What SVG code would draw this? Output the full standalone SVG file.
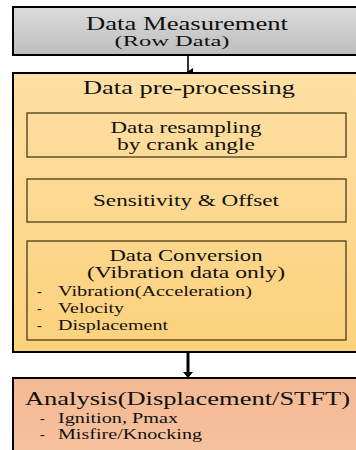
<svg xmlns="http://www.w3.org/2000/svg" width="356" height="450" viewBox="0 0 356 450">
<style>
text{font-family:"Liberation Serif","Times New Roman",serif;fill:#111;}
.c{text-anchor:middle;}
.box{stroke:#000;stroke-width:2;}
.inner{fill:none;stroke:#4a3c1a;stroke-width:1.3;}
.ln{stroke:#000;stroke-width:1.6;fill:none;}
</style>
<defs>
<linearGradient id="gGray" x1="0" y1="0" x2="0" y2="1"><stop offset="0" stop-color="#dcdcdc"/><stop offset="1" stop-color="#bdbdbd"/></linearGradient>
<linearGradient id="gOr" x1="0" y1="0" x2="0" y2="1"><stop offset="0" stop-color="#fee0a4"/><stop offset="1" stop-color="#fbd17c"/></linearGradient>
<linearGradient id="gPk" x1="0" y1="0" x2="0" y2="1"><stop offset="0" stop-color="#f3b994"/><stop offset="1" stop-color="#f6c29e"/></linearGradient>
<marker id="ah" markerWidth="8" markerHeight="8" refX="4" refY="6" orient="auto" markerUnits="userSpaceOnUse" viewBox="0 0 8 8"><path d="M0,1 L8,1 L4,7 z" fill="#000"/></marker>
</defs>
<g id="connectors">
<line class="ln" x1="188" y1="56" x2="188" y2="72" marker-end="url(#ah)"/>
<line class="ln" x1="187" y1="157" x2="187" y2="178" marker-end="url(#ah)"/>
<line class="ln" x1="187" y1="222" x2="187" y2="240" marker-end="url(#ah)"/>
<line x1="188" y1="353" x2="188" y2="374" stroke="#000" stroke-width="3"/>
<path d="M183,372 L193,372 L188,378 z" fill="#000"/>
</g>
<g id="measurement">
<rect class="box" x="13" y="7" width="350" height="48" fill="url(#gGray)"/>
<text class="c" x="187" y="30" font-size="19" textLength="202" lengthAdjust="spacingAndGlyphs">Data Measurement</text>
<text class="c" x="172" y="46" font-size="15" textLength="115" lengthAdjust="spacingAndGlyphs">(Row Data)</text>
</g>
<g id="preprocessing">
<rect class="box" x="13" y="73" width="350" height="279" fill="url(#gOr)"/>
<text class="c" x="189" y="94" font-size="19" textLength="212" lengthAdjust="spacingAndGlyphs">Data pre-processing</text>
</g>
<g id="resampling">
<rect class="inner" x="27" y="113" width="319" height="44"/>
<text class="c" x="186" y="133" font-size="16" textLength="151" lengthAdjust="spacingAndGlyphs">Data resampling</text>
<text class="c" x="186" y="150" font-size="16" textLength="138" lengthAdjust="spacingAndGlyphs">by crank angle</text>
</g>
<g id="sensitivity">
<rect class="inner" x="27" y="179" width="319" height="43"/>
<text class="c" x="186" y="206" font-size="16" textLength="186" lengthAdjust="spacingAndGlyphs">Sensitivity &amp; Offset</text>
</g>
<g id="conversion">
<rect class="inner" x="27" y="241" width="319" height="99"/>
<text class="c" x="186" y="261" font-size="16" textLength="153" lengthAdjust="spacingAndGlyphs">Data Conversion</text>
<text class="c" x="186" y="278" font-size="16" textLength="198" lengthAdjust="spacingAndGlyphs">(Vibration data only)</text>
<text x="37" y="296" font-size="14">-</text>
<text x="58" y="296" font-size="14" textLength="194" lengthAdjust="spacingAndGlyphs">Vibration(Acceleration)</text>
<text x="37" y="313" font-size="14">-</text>
<text x="58" y="313" font-size="14" textLength="66" lengthAdjust="spacingAndGlyphs">Velocity</text>
<text x="37" y="330" font-size="14">-</text>
<text x="58" y="330" font-size="14" textLength="110" lengthAdjust="spacingAndGlyphs">Displacement</text>
</g>
<g id="analysis">
<rect class="box" x="13" y="378" width="350" height="80" fill="url(#gPk)"/>
<text x="25" y="405" font-size="19" textLength="325" lengthAdjust="spacingAndGlyphs">Analysis(Displacement/STFT)</text>
<text x="40" y="423" font-size="14">-</text>
<text x="58" y="423" font-size="14" textLength="120" lengthAdjust="spacingAndGlyphs">Ignition, Pmax</text>
<text x="40" y="439" font-size="14">-</text>
<text x="58" y="439" font-size="14" textLength="144" lengthAdjust="spacingAndGlyphs">Misfire/Knocking</text>
</g>
</svg>
